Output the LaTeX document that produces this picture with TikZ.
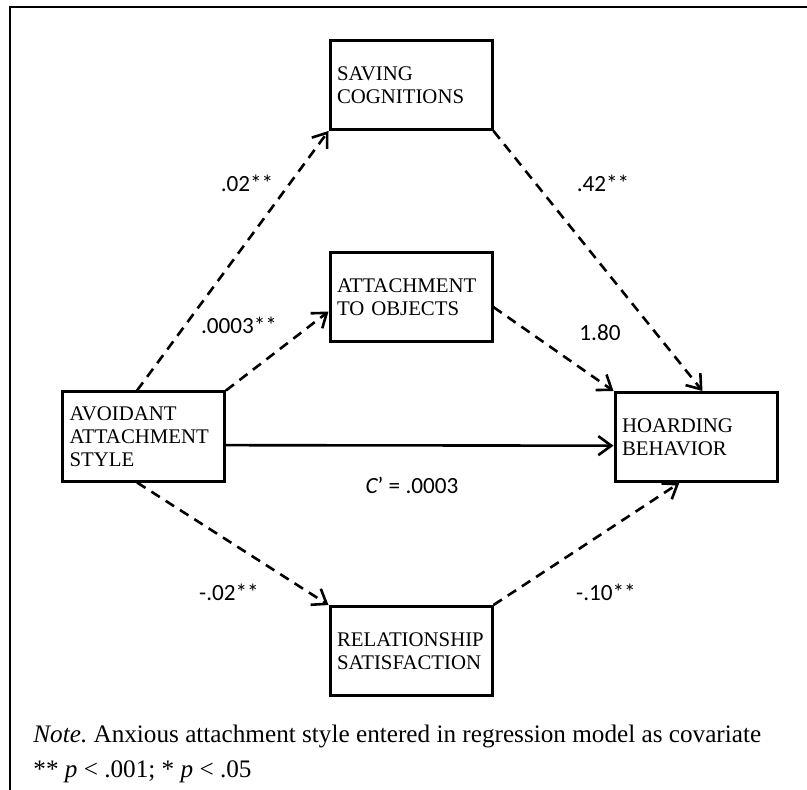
\documentclass[tikz,border=0pt]{standalone}
\usepackage{fontspec}
\setmainfont{Liberation Serif}
\newfontfamily\coeffont{Carlito}
\usetikzlibrary{positioning,arrows.meta}
\frenchspacing

\begin{document}
\begin{tikzpicture}[
  x=0.5pt, y=-0.5pt,
  box/.style={draw, line width=1.5pt, text width=74pt, inner xsep=3.5pt, inner ysep=0pt, minimum height=44.5pt, align=left, font=\fontsize{10.4}{11.6}\selectfont},
  coef/.style={font=\coeffont\fontsize{11.6}{13}\selectfont, inner sep=0pt},
  notetext/.style={anchor=base west, inner sep=0pt, font=\fontsize{12.6}{14}\selectfont},
  arrow/.style={-{Straight Barb[length=6.5pt,width=9.5pt]}, line width=1.3pt},
  dasharrow/.style={arrow, dash pattern=on 5pt off 3.5pt}
]
\useasboundingbox (0,0) rectangle (807,790);
% frame
\draw[line width=1pt] (10,790) -- (10,7) -- (807,7);

% variables
\node[box] (saving) at (411,85) {SAVING\\COGNITIONS};
\node[box, below=60pt of saving] (attach) {ATTACHMENT\\TO OBJECTS};
\node[box] (avoid) at (143.5,436.5) {AVOIDANT\\ATTACHMENT\\STYLE};
\node[box] (hoard) at (696,437) {HOARDING\\BEHAVIOR};
\node[box] (relat) at (411,651) {RELATIONSHIP\\SATISFACTION};

% paths
\draw[dasharrow] (avoid.98) -- (saving.south west);
\draw[dasharrow] (avoid.north east) -- (attach.190);
\draw[dasharrow] (attach.353) -- (hoard.north west);
\draw[dasharrow] (saving.south east) -- (hoard.82);
\draw[arrow] (avoid.354) -- (hoard.186);
\draw[dasharrow] (avoid.262) -- (relat.north west);
\draw[dasharrow] (relat.north east) -- (hoard.250);

% coefficients
\node[coef] (csav) at (247,183) {.02**};
\node[coef] (csavh) at (603,183) {.42**};
\node[coef] (catt) at (239,325) {.0003**};
\node[coef] (catth) at (600,333) {1.80};
\node[coef] (cdirect) at (412,485) {{\itshape C}’ = .0003};
\node[coef] (crel) at (229,592) {-.02**};
\node[coef] (crelh) at (606,592) {-.10**};

% note
\node[notetext] (note) at (33,742) {\textit{Note.} Anxious attachment style entered in regression model as covariate};
\node[notetext] (stars) at (33,777) {** \textit{p} < .001; * \textit{p} < .05};
\end{tikzpicture}
\end{document}
